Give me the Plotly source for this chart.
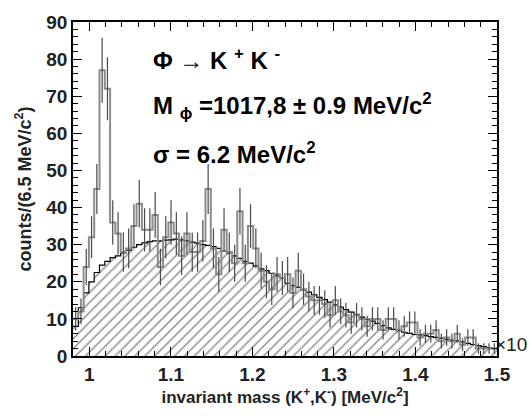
import numpy as np
import plotly.graph_objects as go

# ---- data ----
x_start = 0.98
bin_width = 0.0065  # 6.5 MeV/c^2 in units of 10^3 MeV/c^2
counts = [10, 12, 24, 32, 45, 77, 72, 36, 33, 28,
          29, 35, 41, 34, 34, 38, 24, 32, 36, 33,
          27, 33, 28, 28, 31, 45, 29, 22, 34, 28,
          25, 39, 25, 35, 29, 23, 20, 18, 22, 21,
          22, 17, 23, 18, 16, 15, 15, 14, 11, 15,
          12, 11, 9, 11, 10, 8, 10, 10, 7, 10,
          10, 7, 8, 9, 9, 5, 6, 6, 7, 4,
          5, 4, 6, 3, 5, 5, 2, 2, 2, 2]
background = [8, 13, 17, 20, 22.5, 24.5, 25.5, 26.5, 27, 27.8,
              28.5, 29.3, 30, 30.5, 30.8, 31, 31, 31.2, 31.3, 31.5,
              31.3, 31, 30.7, 30.4, 30, 29.8, 29.5, 29, 28.3, 27.8,
              27, 26.3, 25.5, 25, 24.3, 23.5, 23, 22.3, 21.6, 21,
              19.6, 19, 18.5, 17.8, 17.2, 16.5, 15.8, 15.2, 14.5, 13.8,
              13.2, 12.5, 11.8, 11.2, 10.5, 9.9, 9.4, 8.8, 8.2, 7.6,
              7.2, 6.8, 6.4, 6.1, 5.8, 5.7, 5.5, 5.2, 5.0, 4.8,
              4.5, 4.3, 4.1, 3.8, 3.4, 3.1, 2.8, 2.5, 2.2, 2.0]
x_ticks = [1.0, 1.1, 1.2, 1.3, 1.4, 1.5]
x_tick_labels = ["1", "1.1", "1.2", "1.3", "1.4", "1.5"]
y_ticks = [0, 10, 20, 30, 40, 50, 60, 70, 80, 90]

n = len(counts)
edges = x_start + bin_width * np.arange(n + 1)
centers = edges[:-1] + bin_width / 2
errors = np.sqrt(np.array(counts, dtype=float))

FONT_NARROW = "Liberation Sans Narrow, Arial Narrow, Liberation Sans, Arial, sans-serif"
FONT = "Liberation Sans, Arial, Helvetica, sans-serif"

fig = go.Figure()

# hatched background histogram
fig.add_trace(go.Scatter(
    x=edges, y=list(background) + [background[-1]],
    mode="lines", line=dict(shape="hv", color="black", width=1.2),
    fill="tozeroy", fillcolor="white",
    fillpattern=dict(shape="/", fgcolor="#1e1e1e", size=7, solidity=0.22, fillmode="overlay"),
    showlegend=False, hoverinfo="skip",
))

# data histogram (step)
fig.add_trace(go.Scatter(
    x=edges, y=list(counts) + [counts[-1]],
    mode="lines", line=dict(shape="hv", color="#8c8c8c", width=2),
    showlegend=False, hoverinfo="skip",
))

# error bars
fig.add_trace(go.Scatter(
    x=centers, y=counts, mode="markers",
    marker=dict(size=1, color="#555"),
    error_y=dict(type="data", array=errors, visible=True, color="#4a4a4a", thickness=1.2, width=0),
    showlegend=False, hoverinfo="skip",
))

axis_common = dict(
    showgrid=False, zeroline=False, showline=True, linecolor="black", linewidth=1.5,
    mirror="ticks", ticks="inside", ticklen=9, tickwidth=1.2, tickcolor="black",
)

fig.update_xaxes(
    range=[0.98, 1.5], tickvals=x_ticks, ticktext=x_tick_labels,
    tickfont=dict(family=FONT_NARROW, size=19, color="#222", weight="bold"),
    minor=dict(dtick=0.02, ticks="inside", ticklen=5, tickwidth=1, tickcolor="black"),
    title=dict(text="invariant mass (K<sup>+</sup>,K<sup>-</sup>) [MeV/c<sup>2</sup>]",
               font=dict(family=FONT_NARROW, size=17, color="#222", weight="bold"), standoff=8),
    **axis_common,
)
fig.update_yaxes(
    range=[0, 90], tickvals=y_ticks,
    tickfont=dict(family=FONT_NARROW, size=19, color="#222", weight="bold"),
    minor=dict(dtick=2, ticks="inside", ticklen=5, tickwidth=1, tickcolor="black"),
    title=dict(text="counts/(6.5 MeV/c<sup>2</sup>)",
               font=dict(family=FONT, size=18, color="#222", weight="bold"), standoff=10),
    **axis_common,
)

ann_font = dict(family=FONT, size=24, color="black", weight="bold")


def add_text(txt, px, py, font=ann_font, anchor="left"):
    fig.add_annotation(text=txt, x=(px - 73) / (497 - 73), y=(356 - py) / (356 - 14),
                       xref="paper", yref="paper", xanchor=anchor, yanchor="middle",
                       showarrow=False, font=font)


add_text("Φ → K <sup>+</sup> K <sup>-</sup>", 151, 52)
add_text("M <sub>ϕ</sub> =1017,8 ± 0.9 MeV/c<sup>2</sup>", 151, 100)
add_text("σ = 6.2 MeV/c<sup>2</sup>", 151, 148)
add_text("×10", 529, 344, font=dict(family=FONT_NARROW, size=19, color="#222"), anchor="right")

fig.update_layout(
    width=530, height=416,
    margin=dict(l=73, r=33, t=14, b=60),
    paper_bgcolor="white", plot_bgcolor="white",
)

fig.write_html("out.html", config={"displayModeBar": False},
               post_script="document.body.style.margin='0';document.body.style.padding='0';")
